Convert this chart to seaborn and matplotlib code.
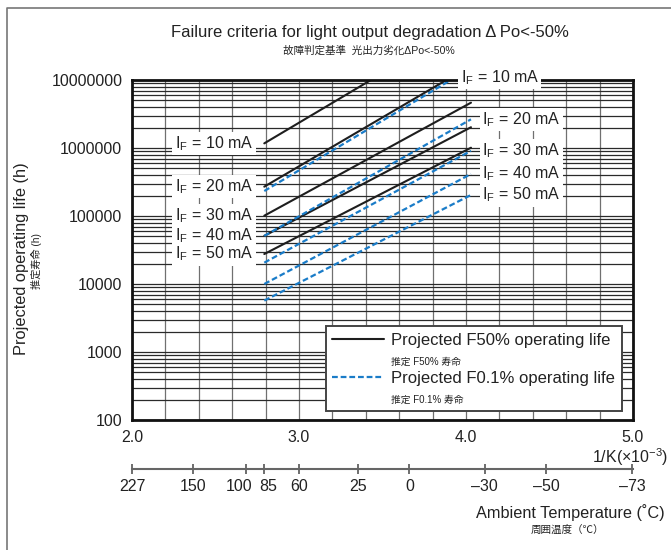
import numpy as np
import pandas as pd
import matplotlib
matplotlib.use("Agg")
import matplotlib.pyplot as plt
import matplotlib.transforms as mtransforms
from matplotlib.lines import Line2D
from matplotlib.ticker import FixedLocator, LogLocator, NullFormatter, NullLocator
import seaborn as sns

# drive currents (mA) and the ambient temperatures the curves span (deg C)
currents = [10, 20, 30, 40, 50]
temp_span = [85, -25]
# projected life (h) at the hot / cold end of each curve
f50_hot = [1.17e6, 2.70e5, 1.01e5, 5.1e4, 2.76e4]
f50_cold = [7.5e7, 1.63e7, 4.64e6, 2.02e6, 1.01e6]
f01_hot = [2.33e5, 5.1e4, 2.06e4, 1.0e4, 5.7e3]
f01_cold = [1.5e7, 2.64e6, 9.1e5, 4.15e5, 2.04e5]

y_ticks = [100, 1000, 10000, 100000, 1000000, 10000000]
x_ticks = [2.0, 3.0, 4.0, 5.0]
x_ticklabels = ["2.0", "3.0", "4.0", "5.0"]
temp_ticks = [227, 150, 100, 85, 60, 25, 0, -30, -50, -73]
temp_ticklabels = ["227", "150", "100", "85", "60", "25", "0", "\u201330", "\u201350", "\u201373"]

BLACK, BLUE = "#1e1e1e", "#1a7cc8"
DASH = (0, (2.6, 1.3))

def inv_k(t):
    return 1000.0 / (t + 273.15)

rows = []
for kind, hot, cold in (("F50", f50_hot, f50_cold), ("F0.1", f01_hot, f01_cold)):
    for i, c in enumerate(currents):
        rows.append({"kind": kind, "current": c, "invK": inv_k(temp_span[0]), "life": hot[i]})
        rows.append({"kind": kind, "current": c, "invK": inv_k(temp_span[1]), "life": cold[i]})
df = pd.DataFrame(rows)

sns.set_style("white")
plt.rcParams["font.family"] = ["Liberation Sans", "Noto Sans CJK JP", "DejaVu Sans"]
plt.rcParams["mathtext.fontset"] = "custom"
plt.rcParams["mathtext.rm"] = "Liberation Sans"
plt.rcParams["mathtext.it"] = "Liberation Sans"

fig = plt.figure(figsize=(6.71, 5.5), dpi=100)
L, R, T, B = 132, 633, 80, 420
ax = fig.add_axes([L / 671, 1 - B / 550, (R - L) / 671, (B - T) / 550])
ax.set_yscale("log")
ax.set_xlim(2.0, 5.0); ax.set_ylim(100, 1e7)

sns.lineplot(data=df[df.kind == "F50"], x="invK", y="life", units="current", estimator=None,
             color=BLACK, lw=1.5, legend=False, ax=ax)
sns.lineplot(data=df[df.kind == "F0.1"], x="invK", y="life", units="current", estimator=None,
             color=BLUE, lw=1.6, linestyle=DASH, legend=False, ax=ax)

# grid
ax.yaxis.set_major_locator(FixedLocator(y_ticks))
ax.set_yticklabels([str(v) for v in y_ticks])
ax.yaxis.set_minor_locator(LogLocator(base=10, subs=range(2, 10)))
ax.yaxis.set_minor_formatter(NullFormatter())
ax.set_xticks(x_ticks); ax.set_xticklabels(x_ticklabels)
ax.set_xticks(np.arange(2.2, 4.95, 0.2), minor=True)
ax.grid(which="both", axis="y", color="#2a2a2a", lw=0.9)
ax.grid(which="both", axis="x", color="#707070", lw=0.9)
ax.set_axisbelow(True)
ax.tick_params(which="both", length=0, labelsize=11.5, colors="#222")
ax.tick_params(axis="y", pad=7); ax.tick_params(axis="x", pad=7)
ax.set_xlabel(""); ax.set_ylabel("")
for sp in ax.spines.values():
    sp.set_linewidth(2); sp.set_color("#111")

# current labels
box = dict(boxstyle="square,pad=0.15", fc="white", ec="none")
for i, c in enumerate(currents):
    ax.annotate(f"I$_\\mathrm{{F}}$ = {c} mA", (inv_k(temp_span[0]), f50_hot[i]), xytext=(-8, 0),
                textcoords="offset points", ha="right", va="center", fontsize=11.5, color="#222",
                bbox=box, annotation_clip=False)
    x0, x1 = inv_k(temp_span[0]), inv_k(temp_span[1])
    y1 = f01_cold[i]; xe, dy = x1, 0
    if y1 > 1e7:
        fr = (7 - np.log10(f01_hot[i])) / (np.log10(y1) - np.log10(f01_hot[i]))
        xe, y1, dy = x0 + fr * (x1 - x0), 1e7, 2
    ax.annotate(f"I$_\\mathrm{{F}}$ = {c} mA", (xe, y1), xytext=(7 if dy else 8, dy),
                textcoords="offset points", ha="left", va="center", fontsize=11.5, color="#222",
                bbox=box, annotation_clip=False)

# legend
handles = [Line2D([], [], color=BLACK, lw=1.5), Line2D([], [], alpha=0),
           Line2D([], [], color=BLUE, lw=1.6, linestyle=DASH), Line2D([], [], alpha=0)]
labels = ["Projected F50% operating life", "推定 F50% 寿命",
          "Projected F0.1% operating life", "推定 F0.1% 寿命"]
leg = ax.legend(handles, labels, loc="lower right", bbox_to_anchor=((622 - L) / (R - L), (B - 411) / (B - T)),
                borderaxespad=0, fontsize=12, handlelength=3.1, handletextpad=0.45, labelspacing=0.28,
                fancybox=False, framealpha=1, edgecolor="#444", borderpad=0.4)
leg.get_frame().set_linewidth(1.4)
for t in leg.get_texts()[1::2]:
    t.set_fontsize(7)
for t in leg.get_texts():
    t.set_color("#222")

# temperature scale
tax = fig.add_axes([L / 671, 1 - 469 / 550, (R - L) / 671, 1e-4])
tax.set_xlim(ax.get_xlim())
tax.set_xticks(np.clip([inv_k(t) for t in temp_ticks], 2.0, 5.0))
tax.set_xticklabels(temp_ticklabels)
tax.xaxis.set_minor_locator(NullLocator())
tax.set_yticks([])
for s in ("top", "left", "right"):
    tax.spines[s].set_visible(False)
tax.spines["bottom"].set_color("#666"); tax.spines["bottom"].set_linewidth(1.5)
tax.patch.set_visible(False)
tax.tick_params(axis="x", bottom=True, direction="inout", length=7, width=1.2, color="#555",
                labelsize=11.5, labelcolor="#222", pad=4)
# nudge the crowded 100 / 85 labels apart like the original
for lab, shift in zip(tax.get_xticklabels()[2:4], (-6, 4)):
    lab.set_transform(lab.get_transform() + mtransforms.ScaledTranslation(shift / 100, 0, fig.dpi_scale_trans))

# texts
fig.text(370 / 671, 1 - 33 / 550, "Failure criteria for light output degradation \u0394\u2009Po<-50%",
         ha="center", va="center", fontsize=12, color="#222")
fig.text(369 / 671, 1 - 51 / 550, "故障判定基準  光出力劣化\u0394Po<-50%",
         ha="center", va="center", fontsize=7.6, color="#222")
fig.text(22 / 671, 1 - 259 / 550, "Projected operating life (h)", rotation=90,
         ha="center", va="center", fontsize=11.8, color="#222")
fig.text(36 / 671, 1 - 261 / 550, "推定寿命 (h)", rotation=90,
         ha="center", va="center", fontsize=7.3, color="#222")
fig.text(668 / 671, 1 - 457 / 550, r"1/K($\times$10$^{-3}$)", ha="right", va="center",
         fontsize=11.5, color="#222")
fig.text(665 / 671, 1 - 513 / 550, "Ambient Temperature (\u02daC)", ha="right", va="center",
         fontsize=11.7, color="#222")
fig.text(567 / 671, 1 - 530 / 550, "周囲温度（℃）", ha="center", va="center", fontsize=7.6, color="#222")

# page frame (left and top edges)
fig.add_artist(Line2D([7 / 671, 7 / 671, 1.0], [0.0, 1 - 8 / 550, 1 - 8 / 550],
                      transform=fig.transFigure, color="#777", lw=1.2))

fig.savefig("out.png", dpi=100)
